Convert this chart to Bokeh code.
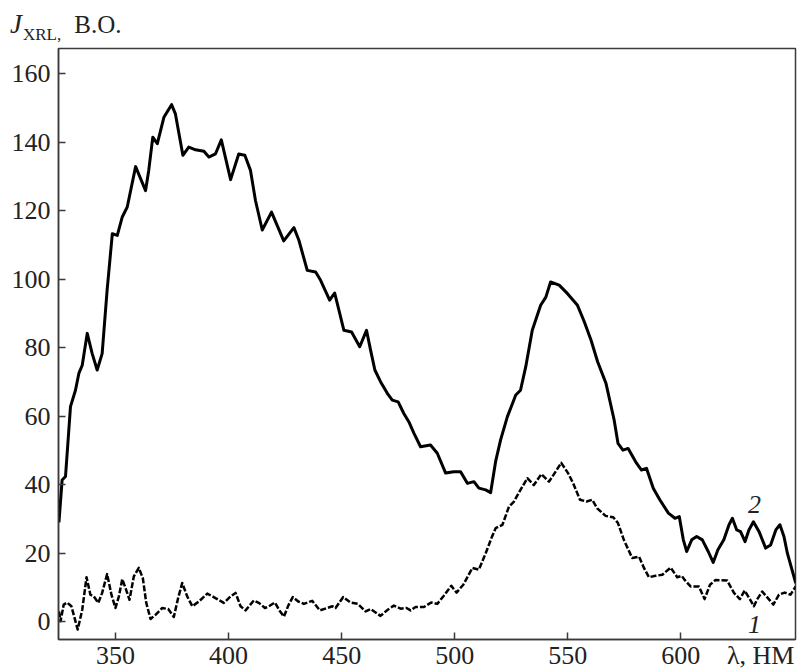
from bokeh.plotting import figure
from bokeh.models import Range1d, FixedTicker, Label, Div
from bokeh.layouts import column
from bokeh.embed import file_html
from bokeh.resources import INLINE

# curve 2 (solid)
wl2 = [325.0, 326.4, 327.9, 330.1, 332.3, 333.8, 335.3, 337.5, 339.7, 341.9, 344.1, 346.3, 348.6, 350.8,
       353.0, 355.2, 358.9, 361.1, 363.3, 364.7, 366.5, 368.5, 371.4, 374.8, 376.5, 379.8, 382.4, 385.4,
       389.1, 391.3, 394.2, 396.8, 400.9, 404.5, 407.2, 409.7, 411.9, 414.9, 419.0, 424.4, 428.9, 431.1,
       434.8, 438.5, 440.7, 444.7, 446.9, 448.8, 451.0, 454.4, 458.0, 461.0, 462.8, 464.7, 467.2, 470.2,
       472.4, 475.0, 477.5, 479.7, 482.0, 484.9, 489.3, 492.3, 496.0, 499.6, 502.6, 505.6, 508.5, 510.7,
       513.7, 515.9, 518.1, 520.3, 523.3, 527.0, 529.1, 531.4, 534.3, 538.0, 540.3, 542.4, 546.2, 549.9,
       554.3, 557.3, 560.3, 563.2, 566.9, 570.5, 572.2, 574.4, 576.7, 580.4, 582.6, 584.8, 587.8, 590.7,
       594.5, 597.4, 599.3, 601.1, 602.6, 604.8, 607.0, 609.5, 612.1, 614.3, 616.4, 619.0, 621.3, 622.8,
       624.7, 626.4, 628.4, 630.1, 632.1, 634.6, 637.5, 639.7, 642.0, 643.8, 645.6, 647.1, 650.8]
j2 = [29.0, 41.4, 42.4, 62.8, 67.6, 72.5, 74.9, 84.2, 78.3, 73.5, 78.3, 96.8, 113.3, 112.8,
      118.2, 121.1, 132.9, 129.4, 125.9, 131.8, 141.5, 139.6, 147.3, 151.0, 148.3, 136.2, 138.6, 137.8,
      137.4, 135.7, 136.6, 140.7, 129.1, 136.6, 136.2, 131.8, 123.0, 114.4, 119.6, 111.2, 115.1, 111.4,
      102.6, 102.1, 99.7, 93.9, 96.0, 91.0, 85.1, 84.6, 80.3, 85.1, 79.3, 73.5, 70.1, 66.7,
      64.7, 64.2, 60.8, 58.4, 55.0, 51.1, 51.6, 49.2, 43.4, 43.8, 43.8, 40.4, 40.9, 39.0,
      38.5, 37.7, 46.8, 53.1, 59.9, 66.2, 67.6, 74.4, 85.1, 92.4, 94.8, 99.2, 98.3, 95.8,
      92.4, 87.6, 82.2, 75.9, 69.6, 58.9, 52.1, 50.1, 50.6, 46.3, 44.3, 44.8, 39.0, 35.6,
      31.7, 30.2, 30.7, 23.9, 20.5, 23.9, 24.9, 23.9, 20.5, 17.3, 21.0, 23.9, 28.3, 30.2,
      26.8, 26.3, 23.4, 26.8, 29.2, 26.3, 21.5, 22.4, 26.8, 28.3, 24.9, 20.0, 11.3]

# curve 1 (dashed)
wl1 = [325.0, 325.7, 327.1, 328.6, 330.5, 333.3, 335.3, 337.2, 338.9, 340.4, 342.4, 344.1, 346.3, 348.2,
       350.0, 351.5, 353.0, 354.7, 356.2, 358.1, 360.3, 362.1, 363.6, 365.5, 367.7, 370.7, 373.3, 375.8,
       377.7, 379.5, 381.7, 384.0, 386.9, 390.6, 394.2, 397.9, 400.9, 403.1, 405.3, 407.5, 411.2, 413.4,
       416.1, 417.8, 420.5, 422.5, 424.5, 426.4, 428.4, 430.8, 433.3, 437.0, 440.4, 443.6, 445.9, 447.3,
       450.7, 453.9, 457.2, 460.6, 462.8, 467.2, 470.4, 473.1, 476.1, 478.7, 480.5, 482.7, 486.4, 489.6,
       492.3, 495.2, 498.5, 500.8, 503.8, 507.8, 510.7, 513.7, 516.3, 518.1, 521.1, 524.0, 526.2, 529.1,
       532.1, 535.0, 538.3, 541.7, 544.2, 547.1, 550.1, 552.4, 555.4, 558.3, 560.8, 563.0, 566.7, 570.1,
       572.2, 574.8, 578.5, 581.5, 583.7, 585.9, 588.8, 591.8, 595.5, 598.4, 600.4, 601.7, 604.3, 608.0,
       610.5, 612.9, 615.4, 620.5, 623.5, 626.1, 628.2, 630.5, 632.3, 633.8, 636.0, 638.5, 640.9, 643.4,
       645.9, 648.5, 650.8]
j1 = [3.0, 0.1, 5.0, 5.6, 4.5, -2.3, 3.5, 13.0, 7.9, 7.4, 5.5, 8.4, 13.9, 7.9,
      4.0, 7.4, 12.4, 9.3, 6.4, 13.2, 15.7, 12.7, 5.5, 0.8, 2.0, 4.0, 3.7, 1.4,
      6.9, 11.3, 7.4, 4.5, 5.9, 8.2, 6.9, 5.5, 7.4, 8.4, 4.5, 3.3, 6.2, 5.5,
      4.0, 4.5, 5.6, 3.3, 1.5, 4.7, 7.2, 5.9, 5.2, 6.1, 3.3, 4.0, 4.5, 4.0,
      7.2, 5.6, 5.2, 3.0, 3.7, 1.7, 3.5, 4.7, 3.8, 4.0, 3.3, 4.3, 4.3, 5.6,
      5.2, 7.6, 10.5, 8.5, 10.8, 15.7, 15.2, 20.0, 24.5, 27.3, 28.3, 33.6, 35.1, 38.5,
      41.9, 39.9, 43.1, 40.9, 43.4, 46.4, 43.4, 40.4, 35.6, 35.1, 35.6, 33.1, 30.9, 30.5,
      28.8, 23.9, 18.6, 19.0, 15.7, 13.0, 13.4, 13.7, 15.8, 13.0, 13.4, 12.2, 10.3, 10.3,
      6.6, 10.8, 12.2, 12.0, 8.4, 6.6, 9.1, 6.6, 4.5, 6.6, 8.8, 6.9, 5.0, 7.9,
      8.5, 7.9, 10.3]

x_ticks = [350, 400, 450, 500, 550, 600]
y_ticks = [0, 20, 40, 60, 80, 100, 120, 140, 160]
x_title = "λ, НМ"
X_TITLE_AT = 635.3   # position of the axis title on the tick-label row

FONT = "Liberation Serif"
AX = "#3a3a3a"
TXT = "#222222"

header = Div(
    text=('<div style="font-family:\'Liberation Serif\'; font-size:25px; line-height:30px; '
          'padding:9px 0 0 10px; color:#222222; white-space:nowrap;">'
          '<span style="font-style:italic; font-size:27px;">J</span>'
          '<span style="font-size:17px; position:relative; top:7px; margin-left:1px;">XRL,</span>'
          '<span style="margin-left:13px;">В.О.</span></div>'),
    width=797, height=46, margin=(0, 0, 0, 0))

p = figure(width=797, height=626, output_backend="svg", toolbar_location=None,
           x_range=Range1d(324.8, 650.7), y_range=Range1d(-5.2, 167.4),
           min_border_left=58, min_border_right=2, min_border_top=2, min_border_bottom=32)
p.xgrid.visible = False
p.ygrid.visible = False
p.outline_line_color = AX
p.outline_line_width = 1.5
p.background_fill_color = "white"
p.border_fill_color = "white"

for ax in (p.xaxis[0], p.yaxis[0]):
    ax.axis_line_color = AX
    ax.axis_line_width = 1.5
    ax.major_tick_line_color = AX
    ax.major_tick_line_width = 1.5
    ax.major_tick_in = 7
    ax.major_tick_out = 0
    ax.major_label_text_font = FONT
    ax.major_label_text_font_size = "26px"
    ax.major_label_text_color = TXT

# x axis: tick marks drawn as "minor" ticks, labels (incl. the axis title) as major labels
xa = p.xaxis[0]
xa.ticker = FixedTicker(ticks=x_ticks + [X_TITLE_AT], minor_ticks=x_ticks)
xa.major_label_overrides = {X_TITLE_AT: x_title}
xa.major_tick_in = 0
xa.major_tick_line_color = None
xa.minor_tick_line_color = AX
xa.minor_tick_line_width = 1.5
xa.minor_tick_in = 7
xa.minor_tick_out = 0
xa.major_label_standoff = 1

ya = p.yaxis[0]
ya.ticker = FixedTicker(ticks=y_ticks)
ya.minor_tick_line_color = None
ya.major_label_standoff = 8

p.line(wl2, j2, line_color="black", line_width=3, line_join="round")
p.line(wl1, j1, line_color="black", line_width=2.5, line_dash="6 2", line_join="round")

p.add_layout(Label(x=632.6, y=31.8, text="2", text_font=FONT, text_font_style="italic",
                   text_font_size="26px", text_align="center", text_color=TXT))
p.add_layout(Label(x=632.6, y=-3.2, text="1", text_font=FONT, text_font_style="italic",
                   text_font_size="26px", text_align="center", text_color=TXT))

layout = column(header, p, spacing=0)
open("out.html", "w").write(file_html(layout, INLINE))
